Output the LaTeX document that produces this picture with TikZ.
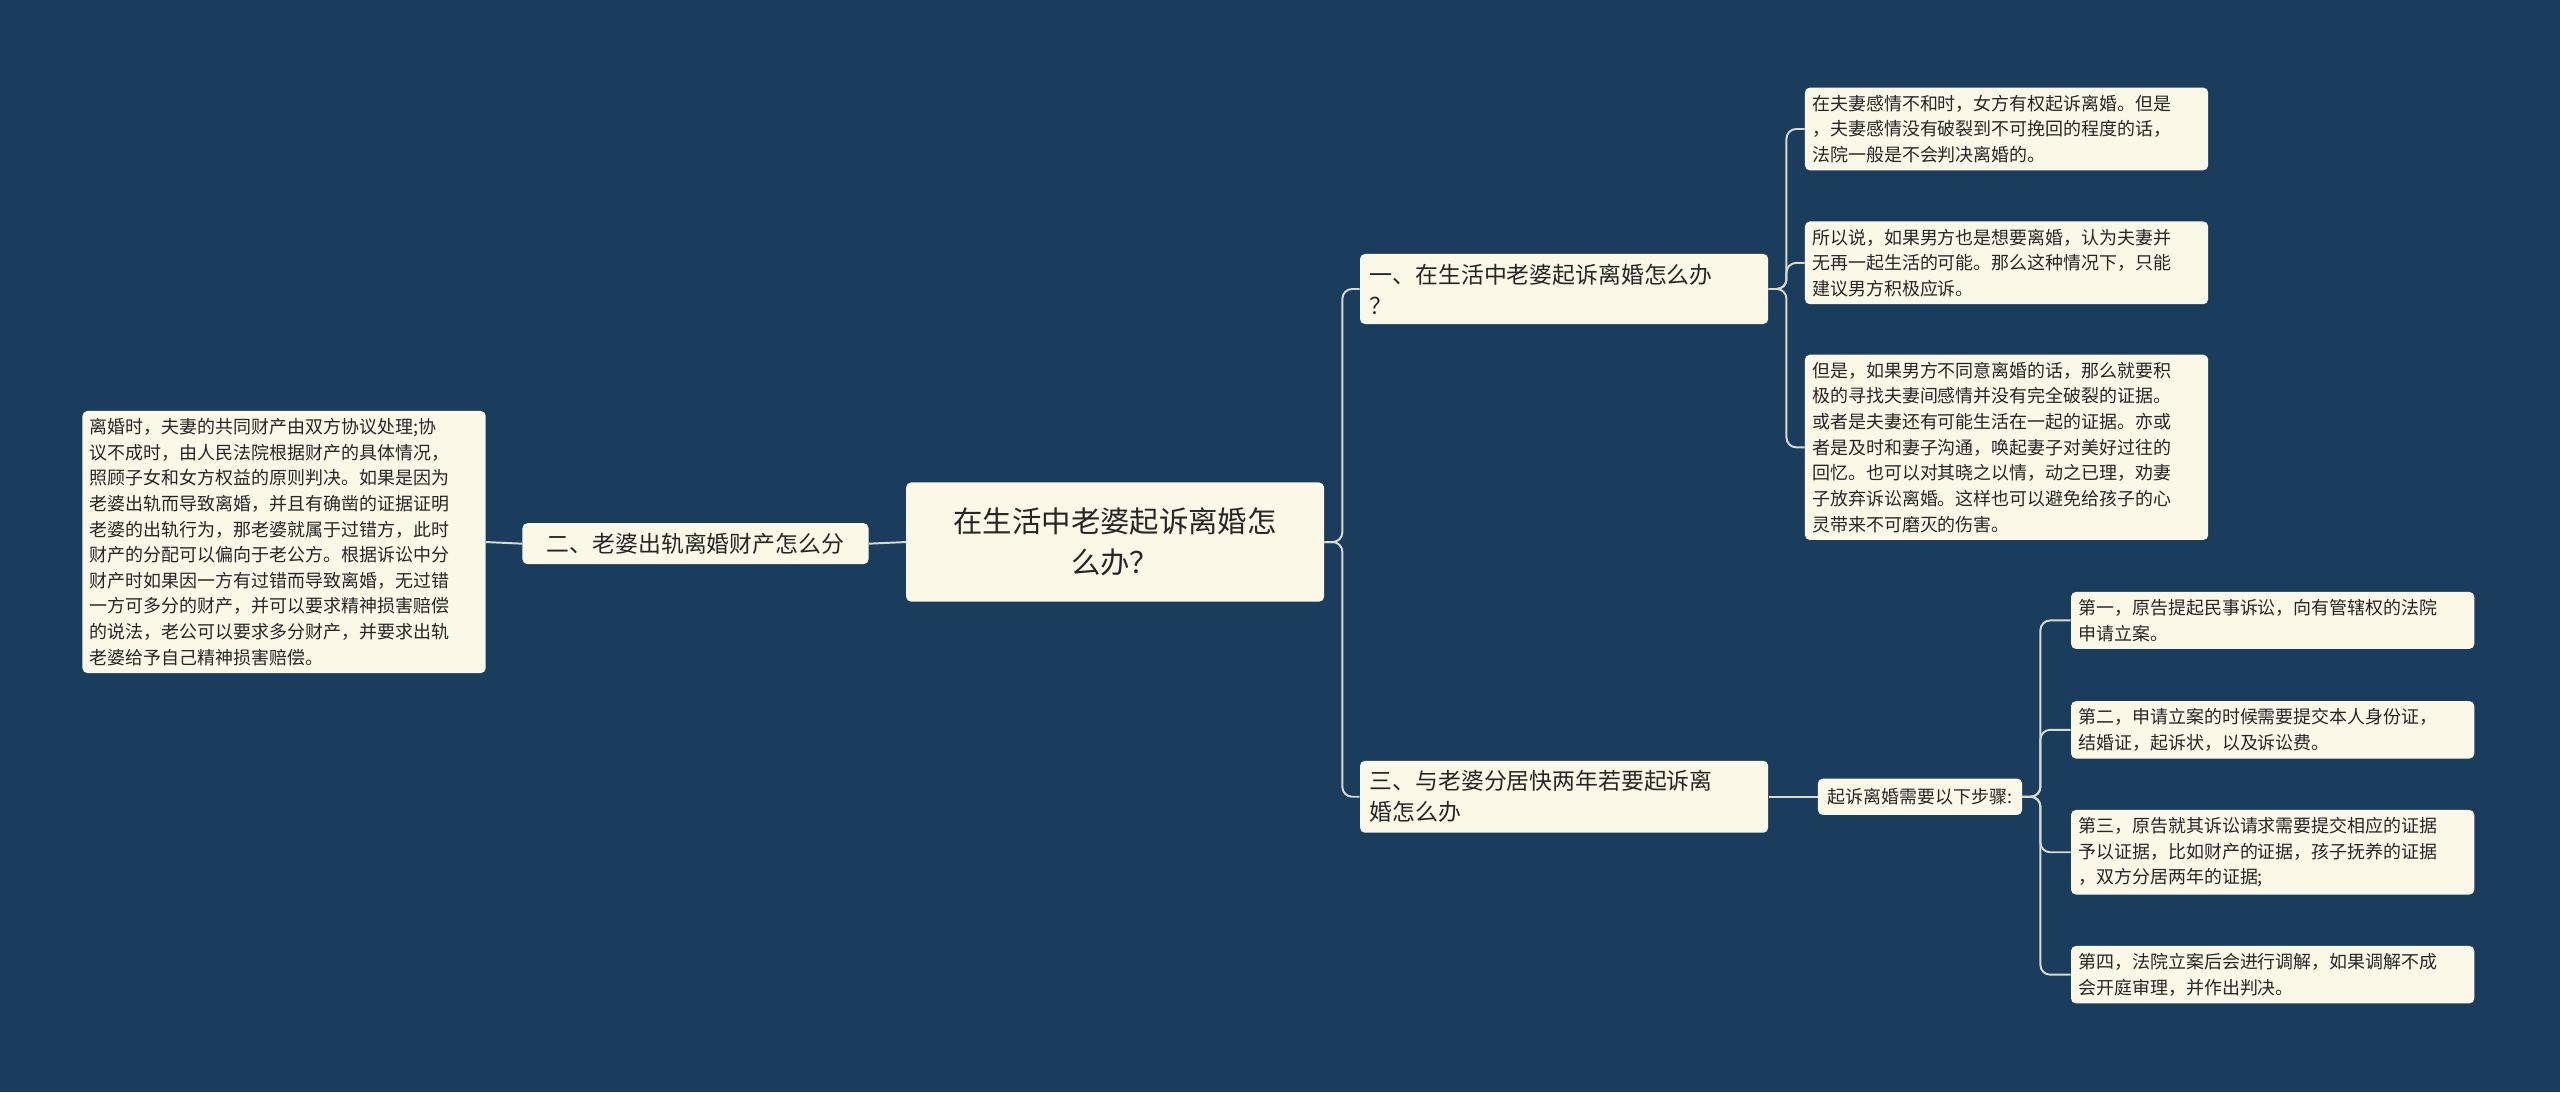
\documentclass[tikz,border=0pt]{standalone}
\usepackage{fontspec}
\newfontfamily\cjk{Noto Sans CJK SC}
\definecolor{bgblue}{HTML}{1B3D5D}
\definecolor{cream}{HTML}{FCF8E8}
\definecolor{wire}{HTML}{D9D9CC}
\tikzset{box/.style = {fill = cream, rounded corners = 3pt, inner sep = 5pt, align = left, text = black!85, font = \cjk},
    leaf/.style = {box, font = \cjk\fontsize{11}{15.7}\selectfont},
    mid/.style = {box, font = \cjk\fontsize{14}{19}\selectfont, inner sep = 6pt},
    link/.style = {wire, line width = 1.2pt, rounded corners = 6pt}}

\begin{document}
\begin{tikzpicture}[x = 1pt, y = -1pt]
    \fill [bgblue] (0, 0) rectangle (1568, 669);
    \useasboundingbox (0, 0) rectangle (1568, 669);
    \node [box, font = \cjk\fontsize{18}{25}\selectfont, align = center, minimum width = 256pt, minimum height = 73pt, inner sep = 4pt] (root) at (683, 332) {在生活中老婆起诉离婚怎\\么办？};
    \node [mid, minimum width = 212pt] (b2) at (426, 333) {二、老婆出轨离婚财产怎么分};
    \node [leaf, text width = 238pt, inner sep = 4.5pt] (b2a) at (174, 332) {离婚时，夫妻的共同财产由双方协议处理;协\\议不成时，由人民法院根据财产的具体情况，\\照顾子女和女方权益的原则判决。如果是因为\\老婆出轨而导致离婚，并且有确凿的证据证明\\老婆的出轨行为，那老婆就属于过错方，此时\\财产的分配可以偏向于老公方。根据诉讼中分\\财产时如果因一方有过错而导致离婚，无过错\\一方可多分的财产，并可以要求精神损害赔偿\\的说法，老公可以要求多分财产，并要求出轨\\老婆给予自己精神损害赔偿。};
    \node [mid, text width = 238pt] (b1) at (958, 177) {一、在生活中老婆起诉离婚怎么办\\？};
    \node [mid, text width = 238pt] (b3) at (958, 488) {三、与老婆分居快两年若要起诉离\\婚怎么办};
    \node [leaf, text width = 238pt, inner sep = 4.5pt] (b1a) at (1229, 79) {在夫妻感情不和时，女方有权起诉离婚。但是\\，夫妻感情没有破裂到不可挽回的程度的话，\\法院一般是不会判决离婚的。};
    \node [leaf, text width = 238pt, inner sep = 4.5pt] (b1b) at (1229, 161) {所以说，如果男方也是想要离婚，认为夫妻并\\无再一起生活的可能。那么这种情况下，只能\\建议男方积极应诉。};
    \node [leaf, text width = 238pt, inner sep = 4.5pt] (b1c) at (1229, 274) {但是，如果男方不同意离婚的话，那么就要积\\极的寻找夫妻间感情并没有完全破裂的证据。\\或者是夫妻还有可能生活在一起的证据。亦或\\者是及时和妻子沟通，唤起妻子对美好过往的\\回忆。也可以对其晓之以情，动之已理，劝妻\\子放弃诉讼离婚。这样也可以避免给孩子的心\\灵带来不可磨灭的伤害。};
    \node [leaf, inner sep = 6pt] (b3s) at (1176, 488) {起诉离婚需要以下步骤:};
    \node [leaf, text width = 238pt, inner sep = 4.5pt] (s1) at (1392, 380) {第一，原告提起民事诉讼，向有管辖权的法院\\申请立案。};
    \node [leaf, text width = 238pt, inner sep = 4.5pt] (s2) at (1392, 447) {第二，申请立案的时候需要提交本人身份证，\\结婚证，起诉状，以及诉讼费。};
    \node [leaf, text width = 238pt, inner sep = 4.5pt] (s3) at (1392, 522) {第三，原告就其诉讼请求需要提交相应的证据\\予以证据，比如财产的证据，孩子抚养的证据\\，双方分居两年的证据;};
    \node [leaf, text width = 238pt, inner sep = 4.5pt] (s4) at (1392, 597) {第四，法院立案后会进行调解，如果调解不成\\会开庭审理，并作出判决。};
    % connectors
    \foreach \a\b in {root/b1, root/b3, b1/b1a, b1/b1b, b1/b1c, b3s/s1, b3s/s2, b3s/s3, b3s/s4} {
        \draw [link] (\a.east) -- ++(11, 0) |- (\b.west);
    }
    \draw [link] (b3.east) -- (b3s.west);
    \draw [link] (root.west) -- (b2.east);
    \draw [link] (b2.west) -- (b2a.east);
\end{tikzpicture}
\end{document}
